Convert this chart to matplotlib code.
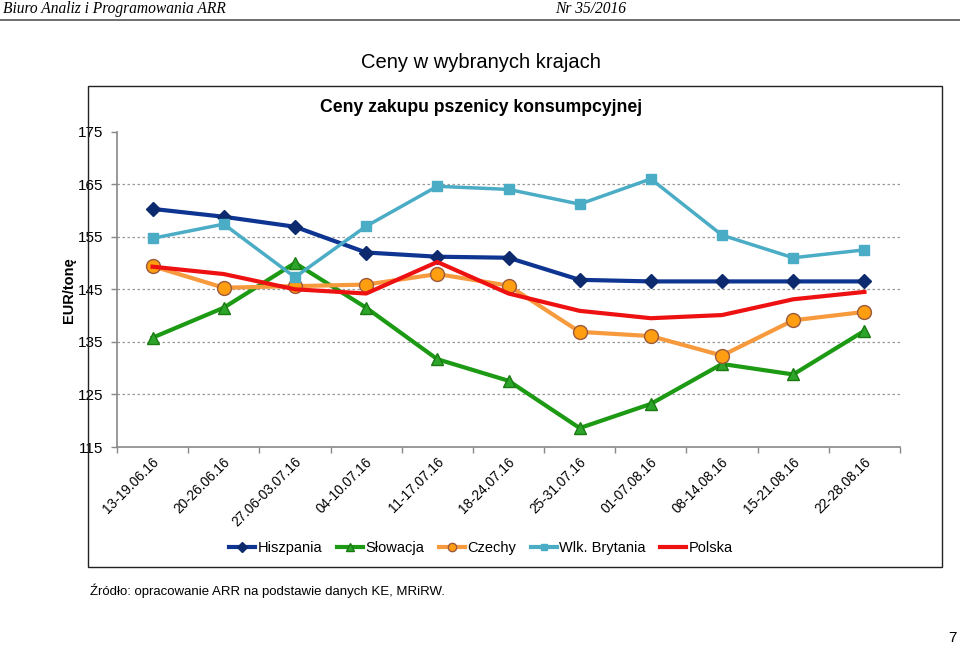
import matplotlib
matplotlib.use("Agg")
import matplotlib.pyplot as plt
from matplotlib.patches import Rectangle
from matplotlib.lines import Line2D

plt.rcParams['font.family'] = ['Liberation Sans', 'DejaVu Sans']

categories = ["13-19.06.16", "20-26.06.16", "27.06-03.07.16", "04-10.07.16", "11-17.07.16",
              "18-24.07.16", "25-31.07.16", "01-07.08.16", "08-14.08.16", "15-21.08.16", "22-28.08.16"]
hiszpania = [160.3, 158.8, 156.9, 152.0, 151.2, 151.0, 146.8, 146.5, 146.5, 146.5, 146.5]
slowacja = [135.8, 141.5, 150.0, 141.5, 131.7, 127.6, 118.6, 123.2, 130.8, 128.8, 137.1]
czechy = [149.4, 145.3, 145.6, 145.9, 147.9, 145.7, 136.9, 136.1, 132.4, 139.1, 140.7]
wlk_brytania = [154.7, 157.4, 147.3, 157.0, 164.6, 164.0, 161.2, 166.0, 155.3, 151.0, 152.5]
polska = [149.3, 147.9, 145.0, 144.2, 150.2, 144.2, 140.9, 139.5, 140.1, 143.1, 144.5]
yticks = [115, 125, 135, 145, 155, 165, 175]

W, H = 960, 647
fig = plt.figure(figsize=(W / 100, H / 100), dpi=100)

def fx(px):
    return px / W

def fy(py):
    return 1 - py / H

# page header
fig.text(fx(3), fy(9), "Biuro Analiz i Programowania ARR", family='Liberation Serif',
         style='italic', fontsize=11.2, ha='left', va='center')
fig.text(fx(555), fy(9), "Nr 35/2016", family='Liberation Serif',
         style='italic', fontsize=11.2, ha='left', va='center')
fig.add_artist(Line2D([0, 1], [fy(19.5), fy(19.5)], color='#555555', lw=1.2))
fig.text(fx(952), fy(638), "7", fontsize=11, ha='center', va='center')

# section title
fig.text(fx(481), fy(62), "Ceny w wybranych krajach", fontsize=14.5, ha='center', va='center')

# chart box
fig.add_artist(Rectangle((fx(88), fy(567)), fx(942) - fx(88), fy(86) - fy(567),
                         fill=False, edgecolor='#222222', lw=1.0))
fig.text(fx(481), fy(107), "Ceny zakupu pszenicy konsumpcyjnej", fontsize=12.7,
         fontweight='bold', ha='center', va='center')

ax = fig.add_axes([fx(117), fy(447), fx(900) - fx(117), fy(131.6) - fy(447)])
x = list(range(len(categories)))

ax.plot(x, hiszpania, color='#0D3591', lw=3, marker='D', ms=7, mfc='#0D2A6E', mec='#0D2A6E',
        label='Hiszpania', zorder=4)
ax.plot(x, slowacja, color='#1C9A14', lw=3, marker='^', ms=9, mfc='#2DA52A', mec='#1A7A12',
        label='Słowacja', zorder=4)
ax.plot(x, czechy, color='#F79A3E', lw=3, marker='o', ms=10, mfc='#FF9E10', mec='#9C5A3C',
        label='Czechy', zorder=4)
ax.plot(x, wlk_brytania, color='#4BACC6', lw=2.5, marker='s', ms=7.5, mfc='#4BACC6', mec='#4BACC6',
        label='Wlk. Brytania', zorder=4)
ax.plot(x, polska, color='#EE1111', lw=3, solid_joinstyle='round', label='Polska', zorder=5)

ax.set_xlim(-0.5, len(categories) - 0.5)
ax.set_ylim(115, 175)
ax.set_yticks(yticks)
ax.set_yticklabels([str(v) for v in yticks], fontsize=11)
ax.set_xticks([i - 0.5 for i in range(len(categories) + 1)])
ax.set_xticklabels([])
ax.tick_params(axis='both', colors='#888888', labelcolor='black', length=4, width=1)
ax.tick_params(axis='y', pad=6)
for i, lab in enumerate(categories):
    ax.annotate(lab, xy=(i, 115), xycoords='data', xytext=(-0.6, -5.5), textcoords='offset points',
                rotation=45, ha='right', va='top', rotation_mode='anchor', fontsize=9.8)
for s in ['top', 'right']:
    ax.spines[s].set_visible(False)
for s in ['left', 'bottom']:
    ax.spines[s].set_color('#888888')
    ax.spines[s].set_linewidth(1.2)
for v in yticks[1:-1]:
    ax.axhline(v, color='#999999', lw=0.9, ls=(0, (2, 2)), zorder=1)
ax.set_ylabel("EUR/tonę", fontsize=10.5, fontweight='bold')
ax.yaxis.set_label_coords((76 - 117) / (900 - 117), (447 - 290) / (447 - 131.6))

labels = ['Hiszpania', 'Słowacja', 'Czechy', 'Wlk. Brytania', 'Polska']
leg_handles = [
    Line2D([], [], color='#0D3591', lw=3, marker='D', ms=5, mfc='#0D2A6E', mec='#0D2A6E'),
    Line2D([], [], color='#1C9A14', lw=3, marker='^', ms=6, mfc='#2DA52A', mec='#1A7A12'),
    Line2D([], [], color='#F79A3E', lw=3, marker='o', ms=6, mfc='#FF9E10', mec='#9C5A3C'),
    Line2D([], [], color='#4BACC6', lw=3, marker='s', ms=5, mfc='#4BACC6', mec='#4BACC6'),
    Line2D([], [], color='#EE1111', lw=3),
]
fig.legend(leg_handles, labels, loc='center', bbox_to_anchor=(fx(481), fy(548)), ncol=5,
           frameon=False, fontsize=10.5, handlelength=1.8, handletextpad=0.15, columnspacing=1.0)

fig.text(fx(90), fy(591), "Źródło: opracowanie ARR na podstawie danych KE, MRiRW.",
         fontsize=9.5, ha='left', va='center')

fig.savefig("out.png", dpi=100)
